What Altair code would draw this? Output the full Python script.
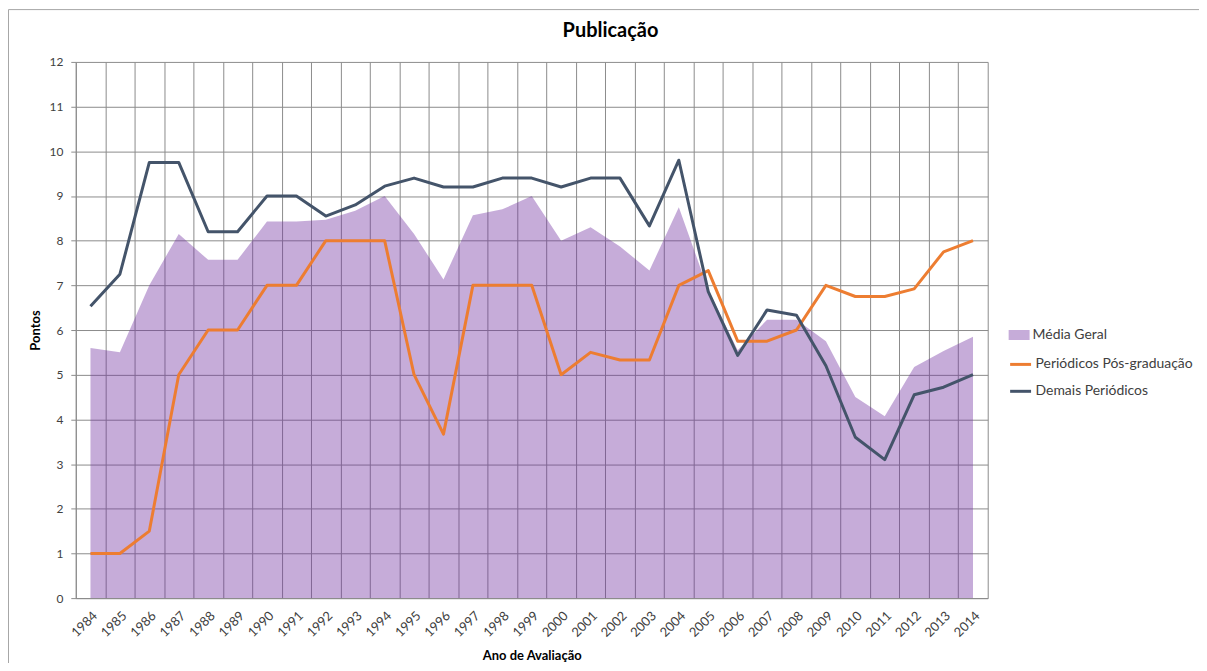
import altair as alt
import pandas as pd

# ---------------- data ----------------
anos = [str(a) for a in range(1984, 2015)]

media_geral = [5.6, 5.5, 7.0, 8.15, 7.57, 7.57, 8.43, 8.43, 8.47, 8.67, 9.0,
               8.15, 7.13, 8.57, 8.7, 9.0, 8.0, 8.3, 7.87, 7.33, 8.75,
               6.9, 5.55, 6.23, 6.23, 5.75, 4.5, 4.07, 5.17, 5.53, 5.85]

periodicos_pos = [1.0, 1.0, 1.5, 5.0, 6.0, 6.0, 7.0, 7.0, 8.0, 8.0, 8.0,
                  5.0, 3.67, 7.0, 7.0, 7.0, 5.0, 5.5, 5.33, 5.33, 7.0,
                  7.33, 5.75, 5.75, 6.0, 7.0, 6.75, 6.75, 6.92, 7.75, 8.0]

demais_periodicos = [6.53, 7.25, 9.75, 9.75, 8.2, 8.2, 9.0, 9.0, 8.55, 8.8, 9.22,
                     9.4, 9.2, 9.2, 9.4, 9.4, 9.2, 9.4, 9.4, 8.33, 9.8,
                     6.86, 5.43, 6.45, 6.33, 5.2, 3.6, 3.1, 4.55, 4.72, 5.0]

serie_area = "Média Geral"
series_linhas = ["Periódicos  Pós-graduação", "Demais Periódicos"]

cor_area = "#7030A0"
cores_linhas = ["#ED7D31", "#44546A"]

df_area = pd.DataFrame({"Ano": anos, "Pontos": media_geral, "Serie": serie_area})
df_linhas = pd.concat([
    pd.DataFrame({"Ano": anos, "Pontos": periodicos_pos, "Serie": series_linhas[0]}),
    pd.DataFrame({"Ano": anos, "Pontos": demais_periodicos, "Serie": series_linhas[1]}),
], ignore_index=True)

FONT = "Lato"
GRID = "#8c8c8c"

x_enc = alt.X(
    "Ano:O",
    scale=alt.Scale(type="band", paddingInner=0, paddingOuter=0),
    bandPosition=0.5,
    axis=alt.Axis(
        title="Ano de Avaliação", labelAngle=-45, tickBand="extent",
        ticks=False, grid=True, gridColor=GRID, gridWidth=1,
        domainColor=GRID, labelFont=FONT, labelFontSize=13,
        labelColor="#404040", labelPadding=11,
        titleFont=FONT, titleFontSize=13, titleFontWeight="bold",
        titleColor="#000000", titlePadding=10,
    ),
)

y_enc = alt.Y(
    "Pontos:Q",
    scale=alt.Scale(domain=[0, 12], nice=False),
    axis=alt.Axis(
        title="Pontos", values=list(range(0, 13)), grid=True,
        gridColor=GRID, gridWidth=1, domainColor=GRID,
        tickColor=GRID, tickSize=5, labelPadding=8,
        labelFont=FONT, labelFontSize=12, labelColor="#404040",
        titleFont=FONT, titleFontSize=13, titleFontWeight="bold",
        titleColor="#000000", titlePadding=6,
    ),
)

moldura = alt.Chart(alt.Data(values=[{"k": 0}])).mark_rect(
    fill="transparent", stroke="#a6a6a6", strokeWidth=1
).encode(
    x=alt.value(-67.5), x2=alt.value(1500),
    y=alt.value(-52.5), y2=alt.value(1000),
)

area = alt.Chart(df_area).mark_area(fillOpacity=0.4, interpolate="linear").encode(
    x=x_enc,
    y=y_enc,
    fill=alt.Fill(
        "Serie:N",
        scale=alt.Scale(domain=[serie_area], range=[cor_area]),
        legend=alt.Legend(
            title=None, orient="none", legendX=936, legendY=263.5,
            padding=0, symbolType="M-1,-0.48H1V0.48H-1Z", symbolSize=441,
            symbolOpacity=0.4, symbolStrokeWidth=0, labelOffset=3,
            labelLimit=300,
            labelFont=FONT, labelFontSize=14, labelColor="#404040",
        ),
    ),
)

linhas = alt.Chart(df_linhas).mark_line(strokeWidth=3, strokeJoin="round").encode(
    x=x_enc,
    y=y_enc,
    stroke=alt.Stroke(
        "Serie:N",
        scale=alt.Scale(domain=series_linhas, range=cores_linhas),
        sort=series_linhas,
        legend=alt.Legend(
            title=None, orient="none", legendX=936, legendY=291.5,
            padding=0, symbolType="stroke", symbolSize=441,
            symbolStrokeWidth=3, rowPadding=8, labelOffset=3,
            labelLimit=300,
            labelFont=FONT, labelFontSize=14, labelColor="#404040",
        ),
    ),
    detail="Serie:N",
)

chart = alt.layer(moldura, area, linhas).properties(
    width=915,
    height=538,
    autosize=alt.AutoSizeParams(type="none"),
    padding={"left": 68, "top": 53, "right": 212, "bottom": 64},
    title=alt.TitleParams(
        "Publicação", font=FONT, fontSize=20, fontWeight="bold",
        color="#000000", anchor="middle", dx=79, offset=-32,
    ),
).configure_view(stroke=None)

chart.save("out.html", embed_options={"renderer": "svg", "actions": False})
